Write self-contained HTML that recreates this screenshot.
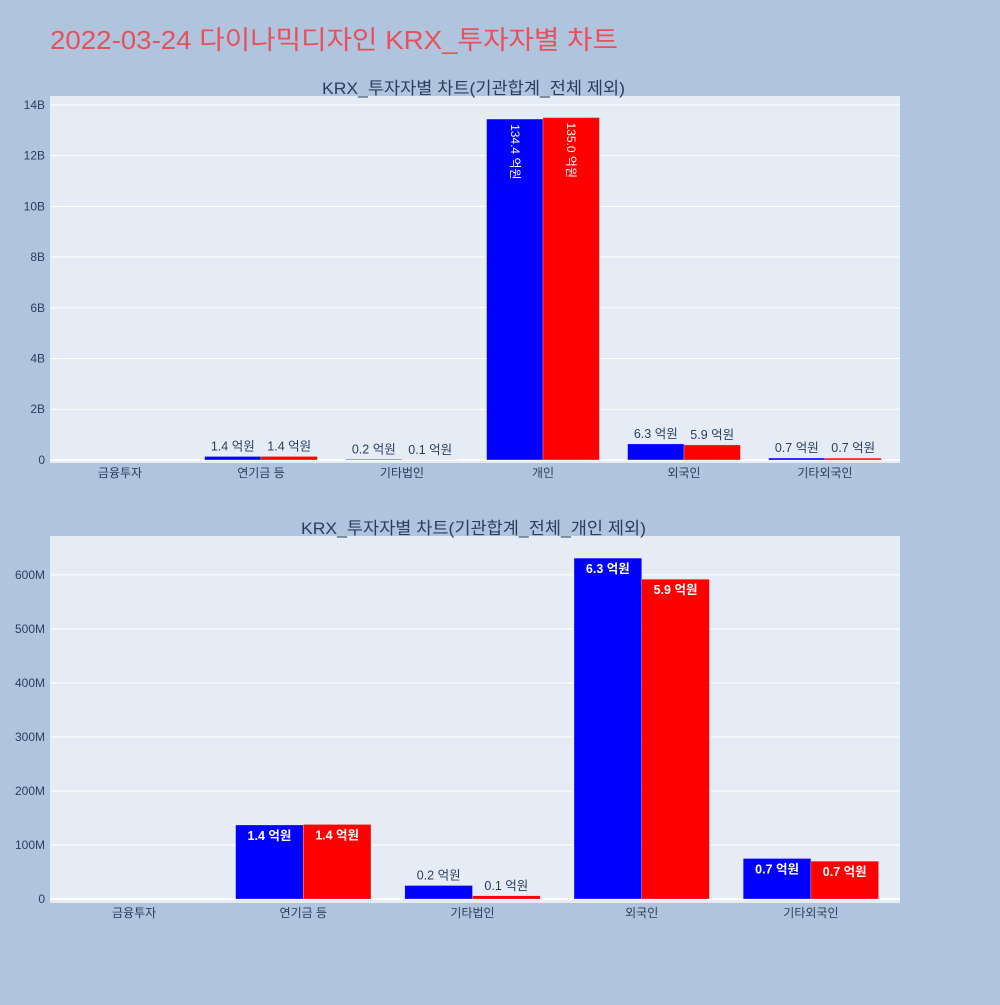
<!DOCTYPE html>
<html><head><meta charset="utf-8">
<style>
body{margin:0;width:1000px;height:1000px;background:#b0c4de;overflow:hidden;font-family:"Liberation Sans","Noto Sans CJK KR",sans-serif;}
svg text{font-family:"Liberation Sans","Noto Sans CJK KR",sans-serif;}
</style></head>
<body>
<svg id="svg" width="1000" height="1000">
<text x="50" y="49" font-size="26" fill="#e8505b" textLength="568" lengthAdjust="spacingAndGlyphs">2022-03-24 다이나믹디자인 KRX_투자자별 차트</text>
</svg>
<script>
const cats1 = ["금융투자","연기금 등","기타법인","개인","외국인","기타외국인"];
const buy1 = [0.0, 0.137, 0.025, 13.44, 0.631, 0.075];
const sell1 = [0.0, 0.138, 0.006, 13.50, 0.592, 0.070];
const lblBuy1 = ["","1.4 억원","0.2 억원","134.4 억원","6.3 억원","0.7 억원"];
const lblSell1 = ["","1.4 억원","0.1 억원","135.0 억원","5.9 억원","0.7 억원"];
const ticks1 = [0,2,4,6,8,10,12,14];
const tickLbl1 = ["0","2B","4B","6B","8B","10B","12B","14B"];

const cats2 = ["금융투자","연기금 등","기타법인","외국인","기타외국인"];
const buy2 = [0, 137, 25, 631, 75];
const sell2 = [0, 138, 6, 592, 70];
const lblBuy2 = ["","1.4 억원","0.2 억원","6.3 억원","0.7 억원"];
const lblSell2 = ["","1.4 억원","0.1 억원","5.9 억원","0.7 억원"];
const ticks2 = [0,100,200,300,400,500,600];
const tickLbl2 = ["0","100M","200M","300M","400M","500M","600M"];

const NS="http://www.w3.org/2000/svg";
const svg=document.getElementById('svg');
function mk(tag,attrs,parent){const e=document.createElementNS(NS,tag);for(const k in attrs)e.setAttribute(k,attrs[k]);(parent||svg).appendChild(e);return e;}

function chart(o){
  const g=mk('g',{});
  
  
  const x0=50,x1=900,xa=49.5,xb=895.5;
  const y=v=>o.top+(o.ymax-v)/(o.ymax-o.ymin)*(o.bot-o.top);
  const bg=mk('rect',{x:x0,y:o.top,width:x1-x0,height:o.bot-o.top,fill:'#e5ecf6'},g);
  
  
  const t=mk('text',{x:o.tx,y:o.top-2,'font-size':17,fill:'#2a3f5f',textLength:o.tw,lengthAdjust:'spacingAndGlyphs'},g);
  t.textContent=o.title;
  
  
  o.ticks.forEach((v,i)=>{
    const yy=y(v);
    const gl=mk('line',{x1:x0,x2:x1,y1:yy,y2:yy,stroke:'#fff','stroke-width':v===0?2:1},g);
    
    
    const tl=mk('text',{x:x0-5,y:yy+4,'font-size':12,fill:'#2a3f5f','text-anchor':'end'},g);
    tl.textContent=o.tickLbl[i];
    
    
  });
  const n=o.cats.length, bw=(xb-xa)/n, w=bw*0.4;
  o.cats.forEach((c,i)=>{
    const cx=xa+bw*(i+0.5);
    const xl=mk('text',{x:cx,y:o.bot+14,'font-size':12,fill:'#2a3f5f','text-anchor':'middle'},g);
    xl.textContent=c;
    
    
    [[o.buy,'#0000ff',o.lb,cx-w],[o.sell,'#ff0000',o.ls,cx]].forEach(([arr,col,lbs,bx],k)=>{
      const v=arr[i], yt=y(v), y0=y(0);
      const r=mk('rect',{x:bx,y:Math.min(yt,y0),width:w,height:Math.abs(y0-yt),fill:col,stroke:'rgba(255,255,255,0.5)','stroke-width':0.5},g);
      
      
      if(!lbs[i])return;
      const h=y0-yt, lx=bx+w/2;
      let lab;
      if(o.rot && h>150){
        lab=mk('text',{x:0,y:0,'font-size':12,fill:'#fff',transform:`translate(${lx-4},${yt+5}) rotate(90)`},g);
      } else if(h>25){
        lab=mk('text',{x:lx,y:yt+15,'font-size':12.5,fill:'#fff','text-anchor':'middle','font-weight':'bold'},g);
      } else {
        lab=mk('text',{x:lx,y:yt-6,'font-size':12.5,fill:'#2a3f5f','text-anchor':'middle'},g);
      }
      lab.textContent=lbs[i];
      
      
    });
  });
}
chart({name:'chart-top',title:'KRX_투자자별 차트(기관합계_전체 제외)',tx:322,tw:303,top:96,bot:463,ymin:-0.12,ymax:14.35,cats:cats1,buy:buy1,sell:sell1,lb:lblBuy1,ls:lblSell1,ticks:ticks1,tickLbl:tickLbl1,rot:true});
chart({name:'chart-bottom',title:'KRX_투자자별 차트(기관합계_전체_개인 제외)',tx:301,tw:345,top:536,bot:903,ymin:-7.4,ymax:672,cats:cats2,buy:buy2,sell:sell2,lb:lblBuy2,ls:lblSell2,ticks:ticks2,tickLbl:tickLbl2,rot:false});
</script>
</body></html>
